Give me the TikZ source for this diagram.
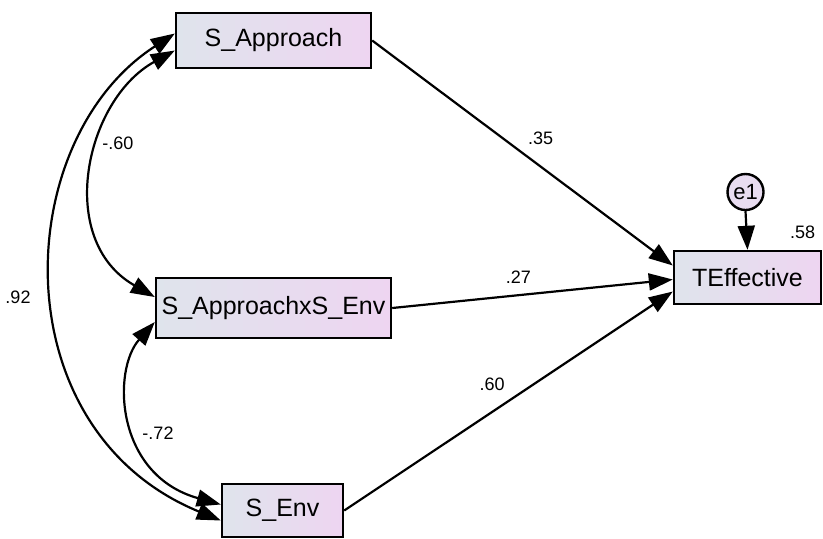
\documentclass[tikz,border=0pt]{standalone}
\usepackage{fontspec}
\setmainfont{Liberation Sans}
\usetikzlibrary{arrows.meta}

\definecolor{boxleft}{HTML}{DFE4EC}
\definecolor{boxright}{HTML}{EED5F1}
\definecolor{errfill}{HTML}{E8DCF0}

\begin{document}
\begin{tikzpicture}[x=0.5pt, y=-0.5pt,
    var/.style={draw, line width=1.2pt, left color=boxleft, right color=boxright,
                inner sep=0pt, font=\fontsize{12.5}{15}\selectfont},
    err/.style={draw, circle, line width=1.2pt, fill=errfill, minimum size=18pt,
                inner sep=0pt, font=\fontsize{11}{13}\selectfont},
    path/.style={line width=1.1pt, -{Triangle[length=12pt,width=8.5pt]}},
    cov/.style={line width=1.1pt, {Triangle[length=12pt,width=8.5pt]}-{Triangle[length=12pt,width=8.5pt]}},
    coef/.style={font=\fontsize{9}{11}\selectfont}]
            \useasboundingbox (0,0) rectangle (823,538);

            % variables
            \node[var, minimum width=97.5pt, minimum height=27.5pt] (sapp) at (273.5,40.5) {S\_Approach};
            \node[var, minimum width=117.5pt, minimum height=30pt] (sint) at (273.5,308) {S\_ApproachxS\_Env};
            \node[var, minimum width=60.5pt, minimum height=26.5pt] (senv) at (282.5,510.5) {S\_Env};
            \node[var, minimum width=73.5pt, minimum height=26.5pt] (teff) at (747.5,277.5) {TEffective};
            \node[err] (e1) at (745.5,192) {e1};

            % regression paths
            \draw[path] (sapp.east) -- ([yshift=6pt]teff.west) node[coef, pos=0.56, above=7pt] {.35};
            \draw[path] (sint.east) -- ([yshift=-1pt]teff.west) node[coef, pos=0.45, above=2pt] {.27};
            \draw[path] (senv.east) -- ([yshift=-7pt]teff.west) node[coef, pos=0.45, above=7pt] {.60};
            \draw[path] (e1.south) -- (teff.north);

            % covariances
            \draw[cov] ([yshift=3.5pt]sapp.west) .. controls (10,140) and (0,430) .. ([yshift=-5pt]senv.west);
            \draw[cov] ([yshift=-5pt]sapp.west) .. controls (85,100) and (55,240) .. ([yshift=5.5pt]sint.west);
            \draw[cov] ([yshift=-7pt]sint.west) .. controls (112,370) and (115,475) .. ([yshift=3pt]senv.west);

            % covariance labels
            \node[coef] (c1) at (18,297) {.92};
            \node[coef] (c2) at (118,143) {-.60};
            \node[coef] (c3) at (158,433) {-.72};
            \node[coef, anchor=south east, yshift=2pt] (r2) at (teff.north east) {.58};
        \end{tikzpicture}
\end{document}
